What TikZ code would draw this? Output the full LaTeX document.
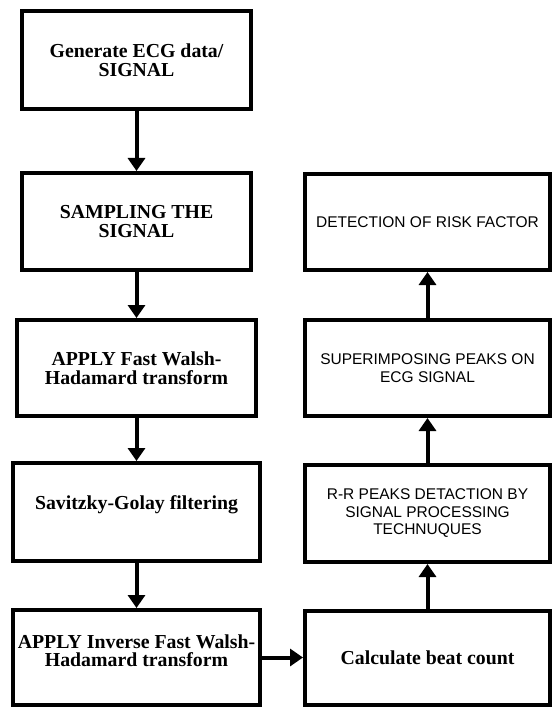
\documentclass[tikz,border=0pt]{standalone}
\usepackage{fontspec}
\setmainfont{Liberation Serif}
\setsansfont{Liberation Sans}
\usetikzlibrary{arrows.meta}
\begin{document}
\begin{tikzpicture}[x=1pt,y=-1pt,
  box/.style={draw=black,line width=4pt,fill=white,inner sep=0pt,align=center},
  ltext/.style={font=\bfseries\fontsize{19.8}{18.5}\selectfont,align=center,inner sep=0pt},
  rtext/.style={font=\sffamily\fontsize{15.5}{17.5}\selectfont,align=center,inner sep=0pt},
  arr/.style={line width=4pt,-{Triangle[length=13pt,width=17pt]}}]
\useasboundingbox (0,0) rectangle (552,708);
% left column
\node[box,ltext,minimum width=229pt,minimum height=98pt] (b1) at (136.5,60) {Generate ECG data/\\SIGNAL};
\node[box,ltext,minimum width=229.5pt,minimum height=97pt] (b2) at (136.5,221.5) {SAMPLING THE\\SIGNAL};
\node[box,ltext,minimum width=239pt,minimum height=96pt] (b3) at (136.5,368) {APPLY Fast Walsh-\\Hadamard transform};
\node[box,minimum width=247pt,minimum height=98pt] (b4) at (136.5,512) {};
\node[ltext] (b4t) at (136.5,505) {Savitzky-Golay filtering};
\node[box,minimum width=247pt,minimum height=95pt] (b5) at (136.5,657.5) {};
\node[ltext] (b5t) at (136.5,650.5) {APPLY Inverse Fast Walsh-\\Hadamard transform};
% right column
\node[box,ltext,minimum width=245pt,minimum height=94pt] (r4) at (427.5,658) {Calculate beat count};
\node[box,rtext,minimum width=245pt,minimum height=97pt] (r3) at (427.5,513.5) {R-R PEAKS DETACTION BY\\SIGNAL PROCESSING\\TECHNUQUES};
\node[box,rtext,minimum width=245pt,minimum height=96pt] (r2) at (427.5,368) {SUPERIMPOSING PEAKS ON\\ECG SIGNAL};
\node[box,rtext,minimum width=245pt,minimum height=96pt] (r1) at (427.5,222) {DETECTION OF RISK FACTOR};
% connectors
\draw[arr] (b1) -- (b2);
\draw[arr] (b2) -- (b3);
\draw[arr] (b3) -- (b4);
\draw[arr] (b4) -- (b5);
\draw[arr] (b5.east) -- (b5.east -| r4.west);
\draw[arr] (r4) -- (r3);
\draw[arr] (r3) -- (r2);
\draw[arr] (r2) -- (r1);
\end{tikzpicture}
\end{document}
